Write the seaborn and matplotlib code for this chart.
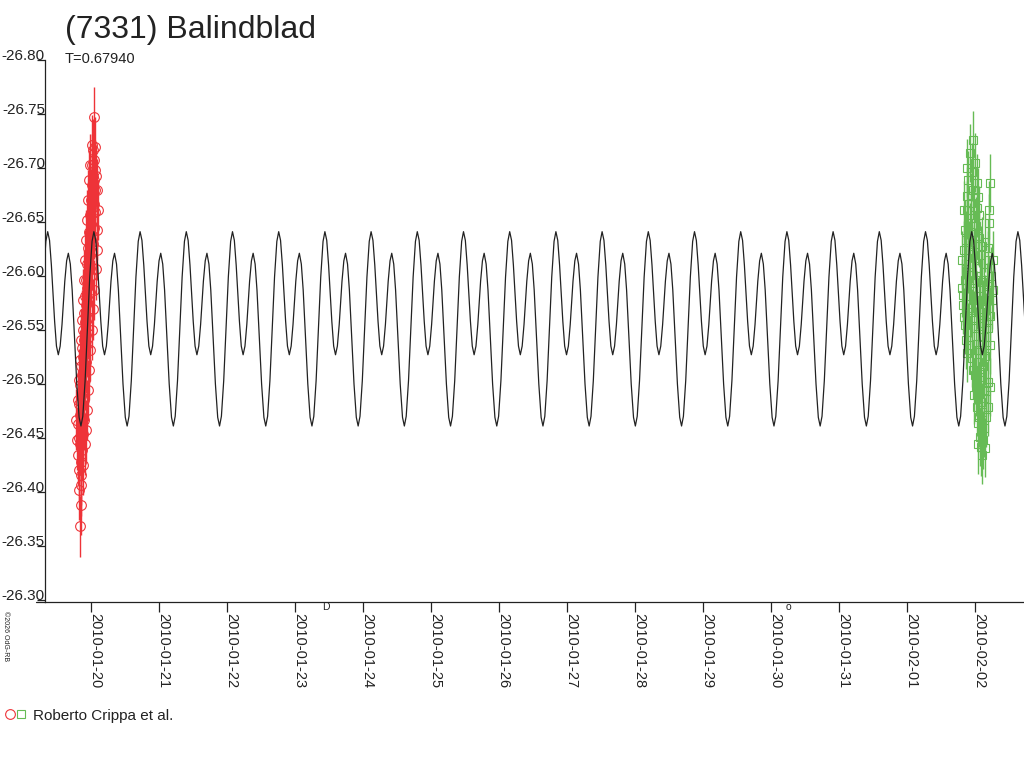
import numpy as np
import pandas as pd
import matplotlib.pyplot as plt
import matplotlib.transforms as mtransforms
from matplotlib.lines import Line2D
import seaborn as sns

# light curve of (7331) Balindblad, x in days of January 2010
period = 0.67940
epoch = 19.363  # time of the brightest maximum

# one cycle of the model curve
cycle_phase = [0, 0.04, 0.08, 0.115, 0.15, 0.19, 0.23, 0.27, 0.31, 0.34, 0.37, 0.41,
               0.447, 0.49, 0.53, 0.58, 0.63, 0.68, 0.72, 0.76, 0.81, 0.86, 0.91, 0.96]
cycle_mag = [-26.641, -26.633, -26.610, -26.584, -26.558, -26.535, -26.527, -26.535,
             -26.555, -26.575, -26.595, -26.614, -26.621, -26.611, -26.587, -26.544,
             -26.500, -26.469, -26.461, -26.470, -26.503, -26.551, -26.599, -26.632]

# Roberto Crippa et al., session 1 (red circles)
red_t = [19.838, 19.853, 19.853, 19.824, 19.853, 19.809, 19.868, 19.838, 19.824, 19.882,
         19.853, 19.809, 19.897, 19.838, 19.868, 19.824, 19.897, 19.853, 19.882, 19.838,
         19.912, 19.868, 19.897, 19.853, 19.926, 19.882, 19.912, 19.868, 19.941, 19.897,
         19.926, 19.882, 19.956, 19.912, 19.941, 19.897, 19.971, 19.926, 19.956, 19.912,
         19.985, 19.941, 19.971, 19.926, 20.000, 19.956, 19.985, 19.941, 20.015, 19.971,
         20.000, 19.956, 20.029, 19.985, 20.015, 19.971, 20.044, 20.000, 20.029, 19.985,
         20.059, 20.015, 20.044, 20.000, 20.029, 20.059, 20.015, 20.044, 20.029, 20.059,
         20.015, 20.044, 20.029, 20.015, 20.044,
         19.794, 19.912, 19.779, 19.926, 19.809, 19.941, 19.824, 19.956, 19.838, 19.971,
         19.853, 19.985, 19.868, 20.015, 19.882, 20.029, 19.897, 20.044, 19.912, 20.074,
         19.926, 20.088, 19.941, 20.088, 19.956, 20.103, 19.971, 20.088, 19.985, 20.074,
         20.059, 19.853, 19.882, 19.824]
red_mag = [-26.368, -26.388, -26.406, -26.420, -26.428, -26.434, -26.439, -26.444, -26.450,
           -26.454, -26.459, -26.463, -26.467, -26.471, -26.476, -26.481, -26.485, -26.489,
           -26.494, -26.499, -26.504, -26.508, -26.513, -26.517, -26.520, -26.525, -26.530,
           -26.533, -26.537, -26.541, -26.545, -26.550, -26.554, -26.557, -26.561, -26.566,
           -26.569, -26.573, -26.578, -26.581, -26.585, -26.589, -26.593, -26.596, -26.600,
           -26.604, -26.607, -26.611, -26.615, -26.619, -26.622, -26.626, -26.630, -26.633,
           -26.637, -26.641, -26.644, -26.648, -26.652, -26.656, -26.659, -26.663, -26.667,
           -26.670, -26.674, -26.680, -26.684, -26.689, -26.693, -26.698, -26.703, -26.707,
           -26.717, -26.721, -26.747,
           -26.448, -26.444, -26.467, -26.457, -26.485, -26.476, -26.504, -26.494, -26.522,
           -26.513, -26.541, -26.531, -26.559, -26.550, -26.578, -26.569, -26.596, -26.587,
           -26.615, -26.606, -26.633, -26.624, -26.652, -26.643, -26.670, -26.661, -26.689,
           -26.680, -26.703, -26.693, -26.719, -26.416, -26.425, -26.402]
red_err = 0.028

# session 2 (green squares)
green_t = [32.926, 33.000, 32.956, 32.897, 33.029, 32.971, 32.882, 33.044, 32.941, 33.029,
           32.882, 32.985, 32.897, 33.015, 32.926, 32.868, 32.985, 33.221, 33.206, 33.206,
           33.059, 33.147, 32.838, 32.956, 33.088, 33.191, 32.897, 33.015, 33.132, 33.235,
           32.853, 32.971, 33.074, 33.176, 32.912, 33.029, 32.824, 33.147, 32.941, 33.059,
           33.221, 32.838, 32.985, 33.103, 33.191, 32.897, 33.015, 33.132, 32.868, 33.074,
           32.882, 33.162, 32.956, 33.044, 33.118, 33.000, 33.088, 33.191, 33.015, 33.221,
           33.059, 33.132, 33.029, 33.191, 33.103, 33.044, 33.132, 33.074, 33.088, 33.103,
           32.809, 32.868, 32.926, 33.000, 33.103, 33.206, 33.265, 32.824, 32.882, 32.956,
           33.044, 33.162, 33.250, 32.853, 32.926, 33.044, 33.147, 33.221, 32.971, 33.074,
           33.162, 32.985, 33.088, 33.162, 33.059, 33.118, 33.147, 33.044, 32.853, 32.941,
           33.044, 33.103, 33.191, 33.265, 32.912, 33.000, 32.809, 33.074, 33.118, 32.882,
           32.971, 33.059, 32.838]
green_mag = [-26.714, -26.705, -26.696, -26.689, -26.686, -26.680, -26.674, -26.673, -26.668,
             -26.663, -26.661, -26.656, -26.649, -26.646, -26.641, -26.633, -26.630, -26.686,
             -26.661, -26.649, -26.635, -26.631, -26.624, -26.620, -26.619, -26.615, -26.611,
             -26.607, -26.604, -26.600, -26.596, -26.593, -26.589, -26.585, -26.581, -26.578,
             -26.582, -26.574, -26.570, -26.567, -26.563, -26.562, -26.559, -26.556, -26.552,
             -26.548, -26.544, -26.543, -26.541, -26.537, -26.529, -26.531, -26.524, -26.520,
             -26.517, -26.508, -26.506, -26.502, -26.497, -26.497, -26.491, -26.487, -26.479,
             -26.479, -26.474, -26.464, -26.459, -26.451, -26.442, -26.434,
             -26.615, -26.606, -26.601, -26.596, -26.594, -26.591, -26.587, -26.573, -26.567,
             -26.561, -26.554, -26.557, -26.578, -26.555, -26.536, -26.531, -26.526, -26.536,
             -26.513, -26.511, -26.493, -26.490, -26.483, -26.469, -26.469, -26.448, -26.441,
             -26.444, -26.643, -26.654, -26.637, -26.628, -26.626, -26.615, -26.624, -26.617,
             -26.589, -26.578, -26.569, -26.700, -26.726, -26.656, -26.661]
green_err = 0.027

tick_days = list(range(20, 34))
tick_labels = ["2010-01-20", "2010-01-21", "2010-01-22", "2010-01-23", "2010-01-24",
               "2010-01-25", "2010-01-26", "2010-01-27", "2010-01-28", "2010-01-29",
               "2010-01-30", "2010-01-31", "2010-02-01", "2010-02-02"]
ytick_vals = [-26.80, -26.75, -26.70, -26.65, -26.60, -26.55, -26.50, -26.45, -26.40, -26.35, -26.30]

# moon phases marked under the axis
moon_days = [23.46, 30.26]
moon_glyphs = ["D", "o"]

RED = "#ee3338"
GREEN = "#66bb55"
INK = "#222222"

sns.set_style("white")
plt.rcParams['font.family'] = ['Liberation Sans', 'DejaVu Sans']

# repeat the cycle over the time span
curve_t = []
curve_m = []
for n in range(-1, 22):
    for p, m in zip(cycle_phase, cycle_mag):
        curve_t.append(epoch + (n + p) * period)
        curve_m.append(m)
curve = pd.DataFrame({"t": curve_t, "mag": curve_m})

fig = plt.figure(figsize=(10.24, 7.68), dpi=100)
ax = fig.add_axes([45 / 1024, 1 - 602 / 768, 979 / 1024, 542 / 768])

ax.errorbar(red_t, red_mag, yerr=red_err, fmt='o', ms=7, mfc='none', mec=RED, mew=0.8,
            ecolor=RED, elinewidth=1.0, capsize=0, zorder=2)
ax.errorbar(green_t, green_mag, yerr=green_err, fmt='s', ms=5.8, mfc='none', mec=GREEN,
            mew=0.8, ecolor=GREEN, elinewidth=1.0, capsize=0, zorder=2)
sns.lineplot(data=curve, x="t", y="mag", color=INK, linewidth=0.9, ax=ax,
             sort=False, zorder=3)

ax.set_xlim(19.3235, 33.72)
ax.set_ylim(-26.298, -26.80)
ax.set_xlabel("")
ax.set_ylabel("")

for s in ["top", "right"]:
    ax.spines[s].set_visible(False)
for s in ["left", "bottom"]:
    ax.spines[s].set_color(INK)
    ax.spines[s].set_linewidth(0.9)

ax.set_xticks(tick_days)
ax.set_xticklabels(tick_labels, rotation=270, ha='left', va='top', fontsize=10.5, color=INK)
ax.set_yticks(ytick_vals)
ax.set_yticklabels(["%.2f" % v for v in ytick_vals], va='baseline', fontsize=11, color=INK)
ax.tick_params(axis='x', bottom=True, direction='out', length=7.2, width=0.9, pad=0.5, color=INK)
ax.tick_params(axis='y', left=True, direction='out', length=5.8, width=0.9, pad=-5.8, color=INK)

# nudge the date labels so they start right at the tick
shift = mtransforms.ScaledTranslation(-0.025, 0, fig.dpi_scale_trans)
for lab in ax.get_xticklabels():
    lab.set_transform(lab.get_transform() + shift)

# bottom axis line sticks out a little to the left
ax.plot([-9 / 979, 0], [0, 0], transform=ax.transAxes, clip_on=False, color=INK, lw=0.9)

for d, g in zip(moon_days, moon_glyphs):
    ax.text(d, -0.009, g, transform=ax.get_xaxis_transform(), ha='center', va='center',
            fontsize=7.5, color=INK)

fig.text(65 / 1024, 1 - 38 / 768, "(7331) Balindblad", fontsize=23, ha='left', va='baseline',
         color=INK)
fig.text(65 / 1024, 1 - 63 / 768, "T=0.67940", fontsize=10.5, ha='left', va='baseline',
         color=INK)
fig.text(5 / 1024, 1 - 611 / 768, "\u00a92026 OdG-RB", fontsize=5, rotation=270, ha='center',
         va='top', color=INK)

# legend at the bottom
fig.add_artist(Line2D([10 / 1024], [1 - 714 / 768], transform=fig.transFigure, marker='o',
                      ms=7, mfc='none', mec=RED, mew=0.8, ls='none'))
fig.add_artist(Line2D([21 / 1024], [1 - 714 / 768], transform=fig.transFigure, marker='s',
                      ms=5.5, mfc='none', mec=GREEN, mew=0.8, ls='none'))
fig.text(33 / 1024, 1 - 720 / 768, "Roberto Crippa et al.", fontsize=11, ha='left',
         va='baseline', color=INK)

fig.savefig("out.png", dpi=100)
